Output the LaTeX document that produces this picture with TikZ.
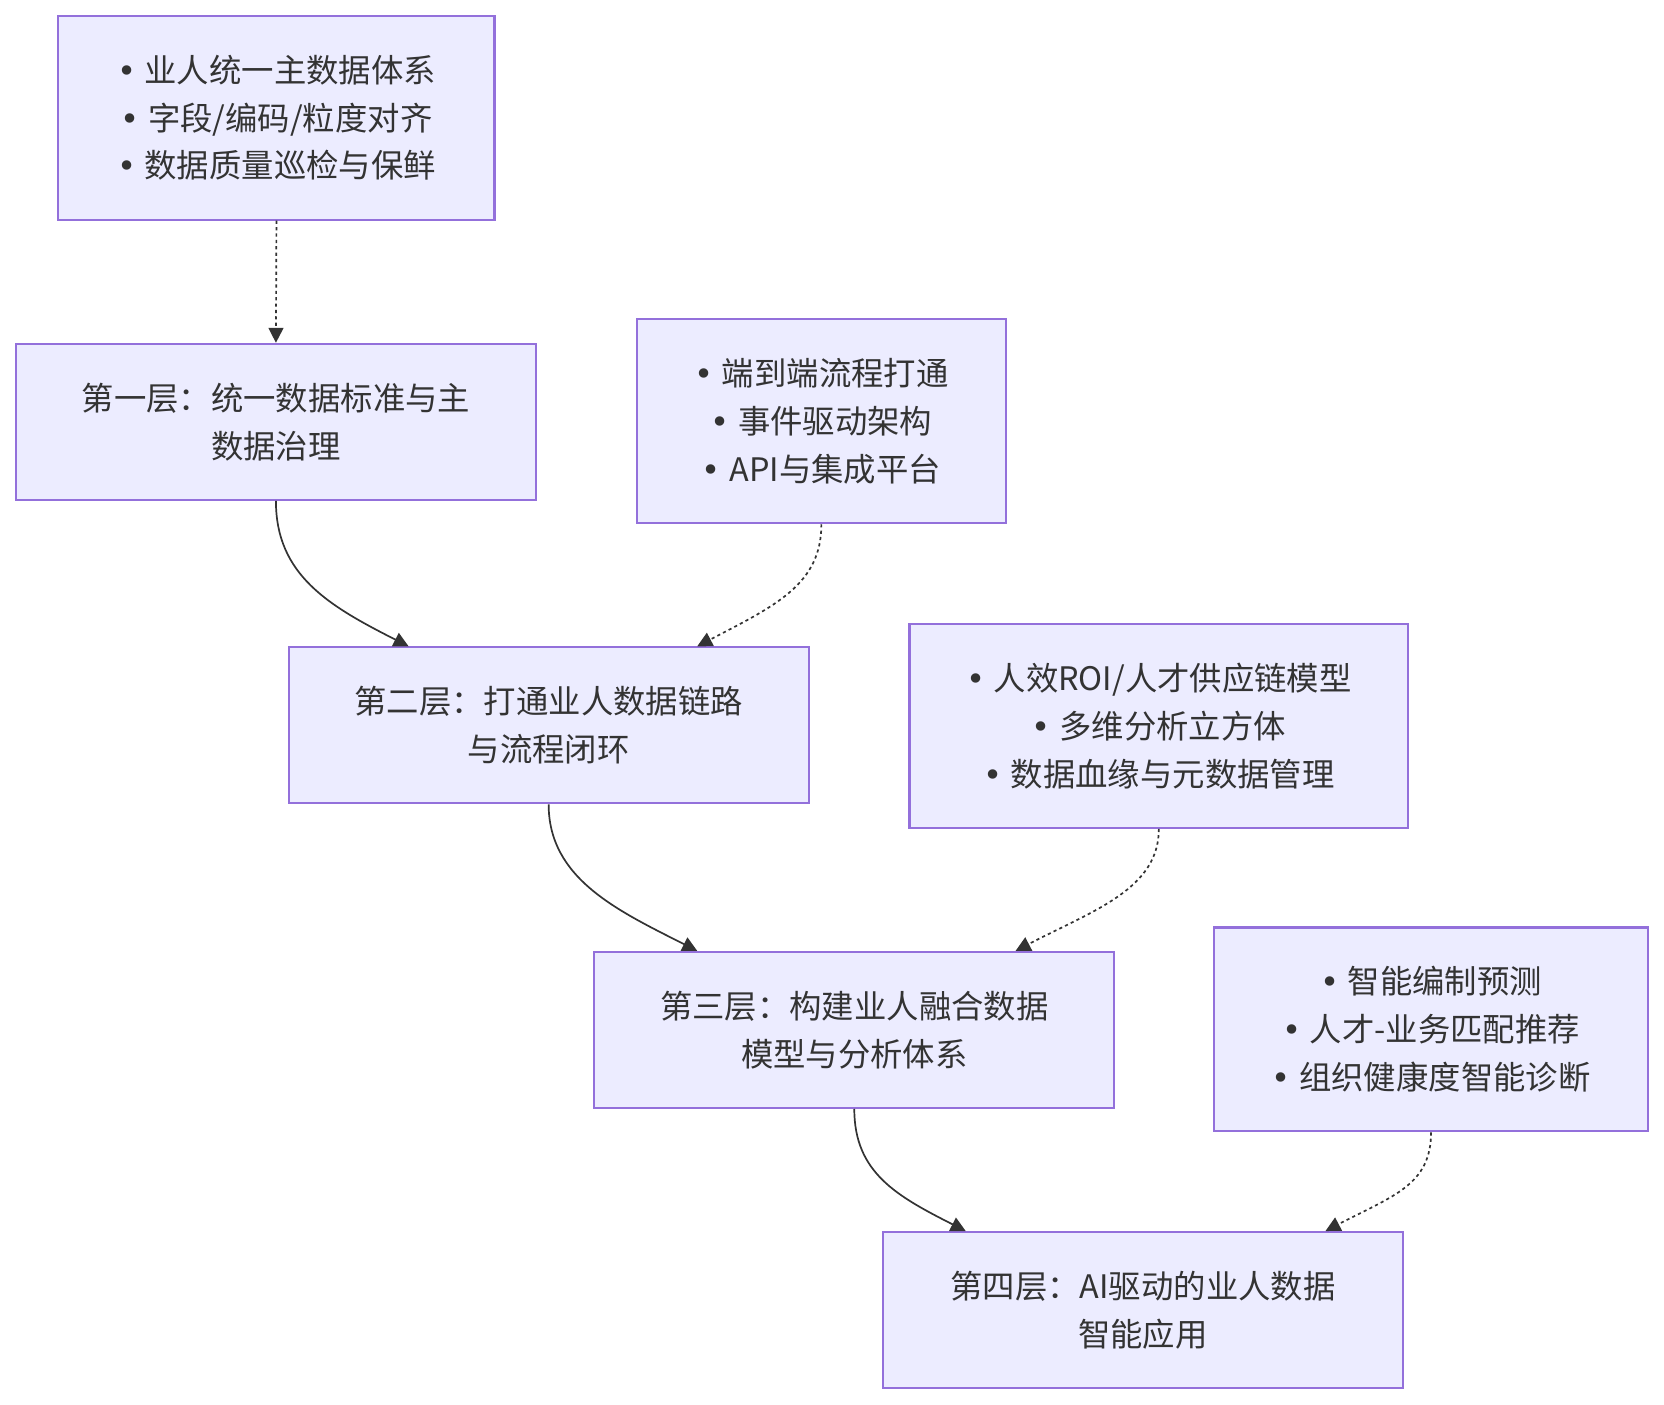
\documentclass[tikz,border=0pt]{standalone}
\usepackage{fontspec}
\setmainfont{Noto Sans CJK SC}
\newfontfamily\dotfont{DejaVu Sans}
\usetikzlibrary{arrows.meta,calc}
\definecolor{boxfill}{HTML}{ECECFF}
\definecolor{boxline}{HTML}{9370DB}
\definecolor{ink}{HTML}{333333}
\newcommand{\bul}{{\dotfont •}\hspace{8pt}}

\begin{document}
\begin{tikzpicture}[x=1pt,y=-1pt,>={Triangle[length=14pt,width=14pt]},
  box/.style={draw=boxline,fill=boxfill,line width=2pt,text=ink,align=center,inner sep=0pt,font=\fontsize{30.5}{45}\selectfont},
  layer/.style={box,minimum width=490pt,minimum height=147pt},
  note/.style={box,minimum height=192pt},
  link/.style={ink,line width=1.6pt,->},
  dots/.style={link,dash pattern=on 3pt off 3pt}]
\useasboundingbox (0,0) rectangle (1568,1323);
% supporting notes
\node[note,minimum width=411pt] (A) at (260.5,111){\bul 业人统一主数据体系\\\bul 字段/编码/粒度对齐\\\bul 数据质量巡检与保鲜};
\node[note,minimum width=348pt] (B) at (774,397){\bul 端到端流程打通\\\bul 事件驱动架构\\\bul API与集成平台};
\node[note,minimum width=470pt] (C) at (1092,684){\bul 人效ROI/人才供应链模型\\\bul 多维分析立方体\\\bul 数据血缘与元数据管理};
\node[note,minimum width=409pt] (D) at (1348.5,970){\bul 智能编制预测\\\bul 人才-业务匹配推荐\\\bul 组织健康度智能诊断};
% layers
\node[layer] (L1) at (260,397.5){第一层：统一数据标准与主\\数据治理};
\node[layer] (L2) at (517,683.5){第二层：打通业人数据链路\\与流程闭环};
\node[layer] (L3) at (805,970.5){第三层：构建业人融合数据\\模型与分析体系};
\node[layer] (L4) at (1077,1234.5){第四层：AI驱动的业人数据\\智能应用};
% connectors
\draw[dots] (A.south)--(L1.north);
\draw[link] (L1.south) .. controls +(0,70) and +(-75,-38) .. ($(L2.north)+(-132,0)$);
\draw[dots] (B.south) .. controls +(0,57) and +(73,-38) .. ($(L2.north)+(140,0)$);
\draw[link] (L2.south) .. controls +(0,70) and +(-75,-38) .. ($(L3.north)+(-148,0)$);
\draw[dots] (C.south) .. controls +(0,57) and +(73,-38) .. ($(L3.north)+(152,0)$);
\draw[link] (L3.south) .. controls +(0,60) and +(-65,-33) .. ($(L4.north)+(-167,0)$);
\draw[dots] (D.south) .. controls +(0,50) and +(63,-33) .. ($(L4.north)+(172,0)$);
\end{tikzpicture}
\end{document}
